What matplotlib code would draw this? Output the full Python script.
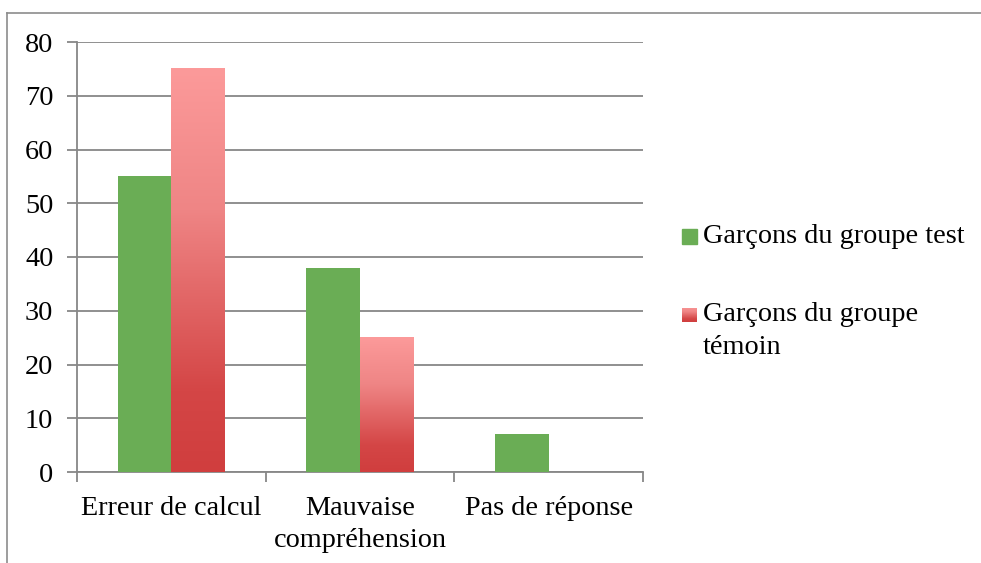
import numpy as np
import matplotlib
matplotlib.use("Agg")
import matplotlib.pyplot as plt
from matplotlib.lines import Line2D
from matplotlib.patches import Rectangle
from matplotlib.colors import LinearSegmentedColormap

categories = ["Erreur de calcul", "Mauvaise\ncompréhension", "Pas de réponse"]
series_names = ["Garçons du groupe test", "Garçons du groupe\ntémoin"]
test_values = [55, 38, 7]
temoin_values = [75, 25, 0]
yticks = [0, 10, 20, 30, 40, 50, 60, 70, 80]

FONT = "Liberation Serif"
FS = 20.3
GREEN = "#6aad55"
GRID = "#878787"
pink_cmap = LinearSegmentedColormap.from_list(
    "pink", [(0.0, "#d03e3e"), (0.2, "#d44646"), (0.65, "#ef8585"), (1.0, "#fc9a9a")])

W, H = 981, 563
fig = plt.figure(figsize=(W / 100, H / 100), dpi=100)
fig.patch.set_facecolor("white")

def px(x, y):
    return x / W, 1 - y / H

ax = fig.add_axes([77 / W, 1 - 472 / H, (643 - 77) / W, (472 - 42) / H])
x = np.arange(len(categories))
bw = 0.285

bars_test = ax.bar(x - bw / 2, test_values, bw, color=GREEN, zorder=3)
bars_tem = ax.bar(x + bw / 2, temoin_values, bw, color="none", zorder=3)

grad = np.linspace(0, 1, 256).reshape(-1, 1)
for b in bars_tem:
    h = b.get_height()
    if h <= 0:
        continue
    ax.imshow(grad, cmap=pink_cmap, origin="lower", aspect="auto",
              extent=(b.get_x(), b.get_x() + b.get_width(), 0, h), zorder=3)

ax.set_xlim(-0.5, len(categories) - 0.5)
ax.set_ylim(0, 80)
ax.set_yticks(yticks)
ax.set_yticklabels([str(v) for v in yticks], fontfamily=FONT, fontsize=FS)
ax.yaxis.grid(True, color=GRID, linewidth=1.3, zorder=0)
ax.set_axisbelow(True)

ax.set_xticks(x)
ax.set_xticklabels(categories, fontfamily=FONT, fontsize=FS, linespacing=1.4)
ax.set_xticks(np.arange(len(categories) + 1) - 0.5, minor=True)
ax.tick_params(axis="x", which="major", length=0, pad=17)
ax.tick_params(axis="x", which="minor", length=7, width=1.3, color=GRID, direction="out")
ax.tick_params(axis="y", length=7, width=1.3, color=GRID, direction="out", pad=10)

for s in ["top", "right"]:
    ax.spines[s].set_visible(False)
for s in ["left", "bottom"]:
    ax.spines[s].set_color(GRID)
    ax.spines[s].set_linewidth(1.3)

# outer frame (top and left edges visible)
fig.add_artist(Line2D([6.5 / W, 1], [1 - 12.5 / H] * 2, color="#8c8c8c", lw=1.2))
fig.add_artist(Line2D([6.5 / W] * 2, [0, 1 - 12.5 / H], color="#8c8c8c", lw=1.2))

# legend
sq = 15
fig.add_artist(Rectangle(px(682, 236 + sq / 2), sq / W, sq / H, color=GREEN))
lax = fig.add_axes([682 / W, 1 - (315 + sq / 2) / H, sq / W, sq / H])
lax.imshow(grad, cmap=pink_cmap, origin="lower", aspect="auto")
lax.axis("off")
fig.text(*px(703, 236), series_names[0], fontfamily=FONT, fontsize=FS, va="center", ha="left")
fig.text(*px(703, 302), series_names[1], fontfamily=FONT, fontsize=FS, va="top", ha="left",
         linespacing=1.4)

fig.savefig("out.png", dpi=100)
